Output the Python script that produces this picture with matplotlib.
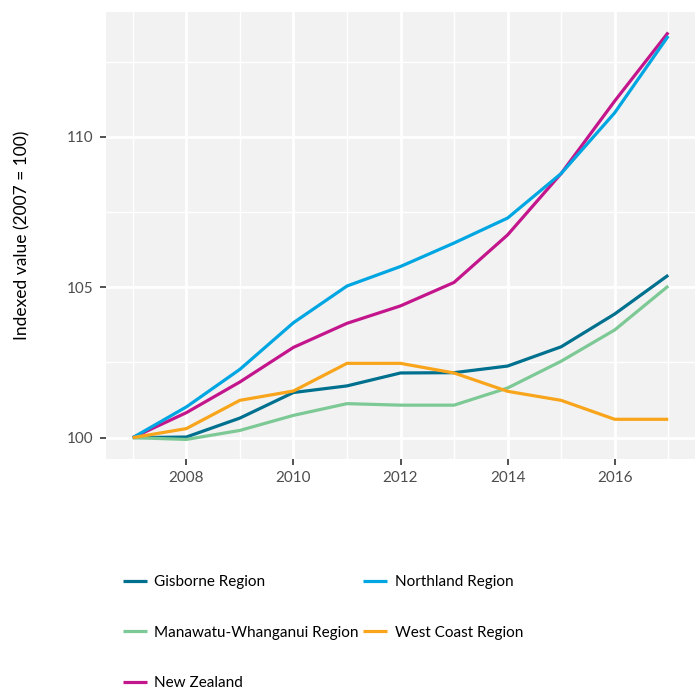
import matplotlib.pyplot as plt
from matplotlib.ticker import MultipleLocator

plt.rcParams['font.family'] = ['Lato', 'DejaVu Sans']

years = [2007, 2008, 2009, 2010, 2011, 2012, 2013, 2014, 2015, 2016, 2017]

gisborne = [100, 100.02, 100.65, 101.5, 101.72, 102.15, 102.16, 102.38, 103.02, 104.11, 105.4]
northland = [100, 101.02, 102.27, 103.82, 105.04, 105.69, 106.47, 107.3, 108.78, 110.8, 113.35]
manawatu = [100, 99.94, 100.24, 100.74, 101.13, 101.08, 101.08, 101.65, 102.54, 103.58, 105.04]
west_coast = [100, 100.3, 101.24, 101.55, 102.47, 102.47, 102.15, 101.54, 101.24, 100.61, 100.61]
new_zealand = [100, 100.83, 101.85, 103.0, 103.8, 104.38, 105.16, 106.74, 108.78, 111.19, 113.47]

series = [
    ("Gisborne Region", gisborne, "#00708f"),
    ("Manawatu-Whanganui Region", manawatu, "#7dc995"),
    ("New Zealand", new_zealand, "#c4168c"),
    ("Northland Region", northland, "#00a6e2"),
    ("West Coast Region", west_coast, "#f8a51c"),
]

fig = plt.figure(figsize=(6.95, 6.95), dpi=100)
ax = fig.add_axes([106 / 695, 1 - 459 / 695, 589 / 695, 447 / 695])
ax.set_facecolor("#f2f2f2")

handles = []
for name, vals, col in series:
    h, = ax.plot(years, vals, color=col, lw=2.3, label=name, solid_capstyle="butt")
    handles.append(h)

ax.set_xlim(2006.5, 2017.5)
ax.set_ylim(99.29, 114.15)
ax.xaxis.set_major_locator(MultipleLocator(2))
ax.xaxis.set_minor_locator(MultipleLocator(1))
ax.yaxis.set_major_locator(MultipleLocator(5))
ax.yaxis.set_minor_locator(MultipleLocator(2.5))
ax.grid(which="major", color="white", lw=2)
ax.grid(which="minor", color="white", lw=1)
ax.set_axisbelow(True)
for s in ax.spines.values():
    s.set_visible(False)
ax.tick_params(which="major", length=4, width=1.2, color="#333333", labelcolor="#4d4d4d",
               labelsize=11, pad=5)
ax.tick_params(which="minor", length=0)
ax.set_ylabel("Indexed value (2007 = 100)", fontsize=12.5, color="black", labelpad=26)

fig.legend(handles=handles, loc="upper left", bbox_to_anchor=(123 / 695, 1 - 575 / 695),
           ncol=2, frameon=False, fontsize=11, handlelength=1.55, handletextpad=0.5,
           labelspacing=2.4, columnspacing=0.3, borderaxespad=0, borderpad=0)

fig.savefig("out.png", dpi=100)
